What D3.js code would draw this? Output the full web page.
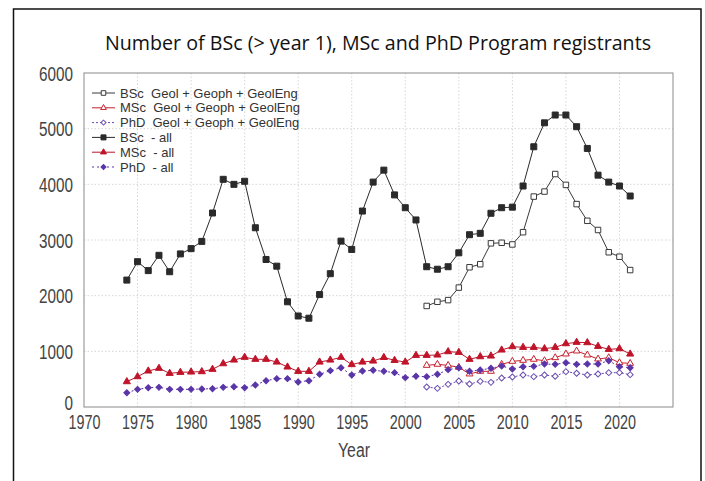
<!DOCTYPE html>
<html>
<head>
<meta charset="utf-8">
<script src="https://cdn.jsdelivr.net/npm/d3@7"></script>
<style>
  body { margin: 0; background: #fff; }
  svg text { font-family: "Liberation Sans", Arial, sans-serif; }
</style>
</head>
<body>
<div id="chart"></div>
<script>
// Registrant counts
const yearsAll = d3.range(1974, 2022);
const yearsGeol = d3.range(2002, 2022);

const bscAll = [2280, 2610, 2450, 2725, 2430, 2750, 2845, 2975, 3485, 4090, 4000, 4055,
    3220, 2650, 2530, 1890, 1635, 1595, 2020, 2395, 2980, 2830, 3520, 4040, 4255, 3810,
    3580, 3360, 2520, 2475, 2520, 2770, 3095, 3120, 3480, 3580, 3590, 3970, 4675, 5105,
    5245, 5245, 5035, 4645, 4165, 4040, 3970, 3790];
const mscAll = [455, 545, 647, 695, 605, 623, 629, 635, 677, 778, 844, 893,
    857, 857, 808, 719, 641, 641, 808, 844, 893, 762, 808, 826, 890, 838,
    808, 928, 928, 934, 994, 982, 857, 904, 916, 1024, 1084, 1072, 1072, 1048,
    1072, 1138, 1162, 1156, 1090, 1036, 1048, 952];
const phdAll = [257, 317, 347, 353, 317, 317, 317, 323, 329, 353, 365, 347,
    395, 473, 509, 509, 449, 473, 587, 653, 706, 575, 647, 659, 641, 617,
    527, 551, 545, 587, 671, 706, 641, 665, 695, 736, 683, 724, 730, 772,
    766, 796, 766, 772, 772, 832, 724, 706];

const bscGeol = [1815, 1890, 1920, 2145, 2510, 2565, 2940, 2950, 2920, 3140,
    3780, 3870, 4185, 3990, 3645, 3345, 3180, 2780, 2700, 2460];
const mscGeol = [748, 767, 748, 713, 593, 641, 641, 767, 820, 838,
    857, 832, 886, 952, 1006, 934, 862, 886, 796, 784];
const phdGeol = [359, 335, 407, 467, 413, 461, 443, 521, 539, 575,
    545, 575, 551, 635, 605, 575, 593, 617, 617, 581];

const xTicks = d3.range(1970, 2021, 5);
const yTicks = d3.range(0, 6001, 1000);

// diamonds are squares turned by 45 degrees
const series = [
    {name: 'BSc  Geol + Geoph + GeolEng', years: yearsGeol, values: bscGeol,
     color: '#3a3a3a', dash: null, symbol: d3.symbolSquare, size: 30, rot: 0, filled: false},
    {name: 'MSc  Geol + Geoph + GeolEng', years: yearsGeol, values: mscGeol,
     color: '#c8202e', dash: null, symbol: d3.symbolTriangle, size: 20, rot: 0, filled: false},
    {name: 'PhD  Geol + Geoph + GeolEng', years: yearsGeol, values: phdGeol,
     color: '#6a4bb0', dash: '2,2', symbol: d3.symbolSquare, size: 18, rot: 45, filled: false},
    {name: 'BSc  - all', years: yearsAll, values: bscAll,
     color: '#2a2a2a', dash: null, symbol: d3.symbolSquare, size: 36, rot: 0, filled: true},
    {name: 'MSc  - all', years: yearsAll, values: mscAll,
     color: '#c0142a', dash: null, symbol: d3.symbolTriangle, size: 22, rot: 0, filled: true},
    {name: 'PhD  - all', years: yearsAll, values: phdAll,
     color: '#5a35a8', dash: '2,3', symbol: d3.symbolSquare, size: 18, rot: 45, filled: true},
];

const width = 705, height = 481;
const plot = {left: 84, top: 73, right: 673, bottom: 407};

const svg = d3.select('#chart').append('svg')
    .attr('width', width)
    .attr('height', height);

svg.append('rect')
    .attr('x', 13.5).attr('y', 9)
    .attr('width', 687.5).attr('height', 500)
    .attr('fill', 'none')
    .attr('stroke', '#111')
    .attr('stroke-width', 1.5);

svg.append('text')
    .attr('x', 378).attr('y', 50)
    .attr('text-anchor', 'middle')
    .attr('font-size', 20.5)
    .style('font-family', '"Open Sans", "Liberation Sans", sans-serif')
    .attr('textLength', 546)
    .attr('lengthAdjust', 'spacingAndGlyphs')
    .attr('fill', '#111')
    .text('Number of BSc (> year 1), MSc and PhD Program registrants');

const x = d3.scaleLinear().domain([1970, 2025]).range([plot.left, plot.right]);
const y = d3.scaleLinear().domain([0, 6000]).range([plot.bottom, plot.top]);

// dotted grid
const grid = svg.append('g');
grid.selectAll('.vg').data(xTicks.filter(d => d > 1970)).join('line')
    .attr('x1', d => x(d)).attr('x2', d => x(d))
    .attr('y1', plot.top).attr('y2', plot.bottom)
    .attr('stroke', '#d6d6d6').attr('stroke-dasharray', '1.5,2');
grid.selectAll('.hg').data(yTicks.filter(d => d > 0 && d < 6000)).join('line')
    .attr('x1', plot.left).attr('x2', plot.right)
    .attr('y1', d => y(d)).attr('y2', d => y(d))
    .attr('stroke', '#d6d6d6').attr('stroke-dasharray', '1.5,2');

svg.append('rect')
    .attr('x', plot.left).attr('y', plot.top)
    .attr('width', plot.right - plot.left).attr('height', plot.bottom - plot.top)
    .attr('fill', 'none').attr('stroke', '#8a8a8a').attr('stroke-width', 1);

// axes (labels only, frame drawn above)
const xAxis = svg.append('g')
    .attr('transform', `translate(0,${plot.bottom})`)
    .call(d3.axisBottom(x).tickValues(xTicks).tickFormat(d3.format('d')).tickSize(0));
xAxis.select('.domain').remove();
xAxis.selectAll('text')
    .attr('dy', 0).attr('y', 22)
    .attr('font-size', 20)
    .attr('fill', '#444')
    .attr('textLength', 32)
    .attr('lengthAdjust', 'spacingAndGlyphs');

const yAxis = svg.append('g')
    .attr('transform', `translate(${plot.left},0)`)
    .call(d3.axisLeft(y).tickValues(yTicks).tickFormat(d3.format('d')).tickSize(0));
yAxis.select('.domain').remove();
yAxis.selectAll('text')
    .attr('x', -11).attr('dy', '0.36em')
    .attr('font-size', 20)
    .attr('fill', '#444')
    .attr('textLength', d => String(d).length * 8.5)
    .attr('lengthAdjust', 'spacingAndGlyphs');
yAxis.selectAll('.tick').filter(d => d === 0).select('text').attr('dy', '0.1em');

svg.append('text')
    .attr('x', 354).attr('y', 457)
    .attr('text-anchor', 'middle')
    .attr('font-size', 20)
    .attr('fill', '#444')
    .attr('textLength', 32)
    .attr('lengthAdjust', 'spacingAndGlyphs')
    .text('Year');

// lines and markers
const line = d3.line().x(d => x(d[0])).y(d => y(d[1]));

series.forEach(s => {
    const pts = s.years.map((yr, i) => [yr, s.values[i]]);
    svg.append('path')
        .attr('d', line(pts))
        .attr('fill', 'none')
        .attr('stroke', s.color)
        .attr('stroke-width', 1)
        .attr('stroke-dasharray', s.dash);
    svg.append('g').selectAll('path').data(pts).join('path')
        .attr('transform', d => `translate(${x(d[0])},${y(d[1])}) rotate(${s.rot})`)
        .attr('d', d3.symbol().type(s.symbol).size(s.size))
        .attr('fill', s.filled ? s.color : '#fff')
        .attr('stroke', s.color)
        .attr('stroke-width', 1);
});

// legend
const legend = svg.append('g').attr('transform', 'translate(92,93)');
const rows = legend.selectAll('g').data(series).join('g')
    .attr('transform', (d, i) => `translate(0,${i * 14.8})`);
rows.append('line')
    .attr('x1', 0).attr('x2', 23)
    .attr('stroke', d => d.color)
    .attr('stroke-dasharray', d => d.dash);
rows.append('path')
    .attr('transform', d => `translate(11.5,0) rotate(${d.rot})`)
    .attr('d', d => d3.symbol().type(d.symbol).size(d.size * 0.7)())
    .attr('fill', d => d.filled ? d.color : '#fff')
    .attr('stroke', d => d.color);
rows.append('text')
    .attr('x', 28).attr('dy', '0.36em')
    .attr('font-size', 13)
    .attr('fill', '#333')
    .style('white-space', 'pre')
    .text(d => d.name);
</script>
</body>
</html>
